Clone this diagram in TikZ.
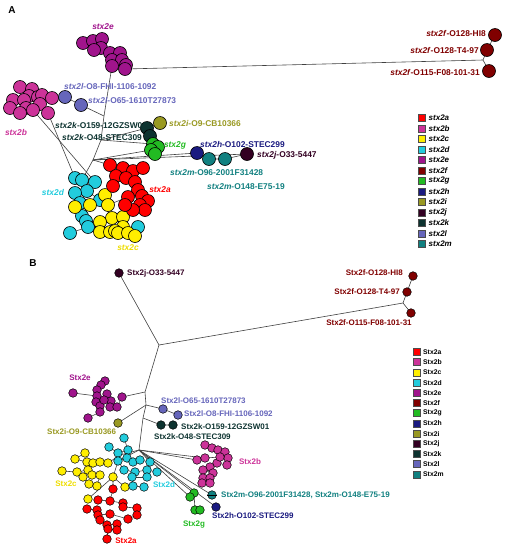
\documentclass[tikz,border=0pt]{standalone}
\usepackage{fontspec}
\setmainfont{Liberation Sans}
\usetikzlibrary{backgrounds}
\definecolor{c2a}{HTML}{FF0000}
\definecolor{c2b}{HTML}{CC3399}
\definecolor{c2c}{HTML}{FFEE00}
\definecolor{c2d}{HTML}{22CCDD}
\definecolor{c2e}{HTML}{A0148C}
\definecolor{c2f}{HTML}{800000}
\definecolor{c2g}{HTML}{22BB22}
\definecolor{c2h}{HTML}{1A1A80}
\definecolor{c2i}{HTML}{999922}
\definecolor{c2j}{HTML}{330022}
\definecolor{c2k}{HTML}{0D3330}
\definecolor{c2l}{HTML}{6666BB}
\definecolor{c2m}{HTML}{118080}
\definecolor{t2c}{HTML}{EEDD00}
\newcommand\clusterA[3]{\foreach \p [count=\i] in {#3} \node[ca,fill=#2] (#1\i) at \p {};}
\newcommand\clusterB[3]{\foreach \p [count=\i] in {#3} \node[cb,fill=#2] (#1\i) at \p {};}
\newcommand\chainlinks[2]{\foreach \a/\b in {#2} \draw[edge] (#1\a.center) -- (#1\b.center);}
\begin{document}
\begin{tikzpicture}[x=1pt,y=-1pt,
  ca/.style={circle,draw=black,line width=0.6pt,minimum size=13pt,inner sep=0pt},
  cb/.style={circle,draw=black,line width=0.5pt,minimum size=8.6pt,inner sep=0pt},
  edge/.style={draw=black!75,line width=0.6pt},
  laba/.style={font=\bfseries\fontsize{8.4}{9}\selectfont,inner sep=0pt},
  labb/.style={font=\bfseries\fontsize{8}{9}\selectfont,inner sep=0pt},
  sq/.style={draw=black!70,line width=0.6pt,minimum size=7pt,inner sep=0pt},
  panel/.style={font=\bfseries\fontsize{10}{11}\selectfont,inner sep=0pt}]
\useasboundingbox (0,0) rectangle (506,550);

% ---------------- Panel A ----------------
\node[panel] (pA) at (12,10) {A};
\clusterA{Ae}{c2e}{(83,43),(93,41),(102,39),(101,48),(94,50),(110,53),(120,53),(112,60),(122,60),(126,65),(112,66),(125,69)}
\clusterA{Ab}{c2b}{(20,87),(32,89),(29,96),(38,97),(13,100),(24,100),(10,108),(42,95),(52,98),(40,104),(26,108),(33,110),(20,113),(48,113)}
\clusterA{Al}{c2l}{(65,97),(81,105)}
\clusterA{Ak}{c2k}{(147,128),(150,136)}
\clusterA{Ai}{c2i}{(160,123)}
\clusterA{Ag}{c2g}{(153,144),(158,147),(151,150),(155,154)}
\clusterA{Ah}{c2h}{(197,153)}
\clusterA{Am}{c2m}{(209,159),(225,159)}
\clusterA{Aj}{c2j}{(247,154)}
\clusterA{Af}{c2f}{(495,35),(487,50),(489,71)}
\clusterA{Ad}{c2d}{(75,178),(82,180),(95,182),(87,191),(75,193),(100,200),(80,203),(82,216),(86,221),(88,227),(70,233),(138,227)}
\clusterA{Ac}{c2c}{(75,207),(90,205),(105,195),(108,205),(112,218),(123,217),(100,222),(123,227),(100,232),(110,232),(115,231),(118,233),(128,233),(135,236)}
\clusterA{Aa}{c2a}{(110,165),(123,168),(133,171),(143,168),(116,176),(126,178),(135,182),(113,186),(138,190),(142,196),(128,197),(148,201),(140,205),(145,210),(133,210),(125,205)}

\coordinate (fhA) at (483,60);
\coordinate (hA1) at (104,116);
\coordinate (hA2) at (101,140);
\coordinate (hA3) at (93,160);

\begin{scope}[on background layer]
\draw[edge] (Ae12.center) -- (fhA);
\draw[edge] (fhA) -- (Af2.center) -- (Af1.center);
\draw[edge] (fhA) -- (Af3.center);
\draw[edge] (Ae11.center) -- (hA1) -- (hA2) -- (hA3) -- (Ad2.center);
\draw[edge] (hA1) -- (Al2.center) -- (Al1.center) -- (Ab9.center);
\draw[edge] (Ab14.center) -- (Ad1.center);
\draw[edge] (Ab12.center) -- (Ad3.center);
\draw[edge] (hA2) -- (Ak1.center) -- (Ai1.center);
\draw[edge] (hA2) -- (Ag1.center);
\draw[edge] (hA3) -- (Ag3.center);
\draw[edge] (hA3) -- (Ah1.center) -- (Am1.center) -- (Am2.center) -- (Aj1.center);
\draw[edge] (hA3) -- (Aj1.center);
\draw[edge] (hA3) -- (Aa1.center);
\chainlinks{Ae}{1/2,2/3,3/4,4/5,4/6,6/7,7/9,8/9,9/10,10/12,11/12}
\chainlinks{Ab}{1/2,2/3,3/4,4/8,8/9,5/6,6/3,7/11,11/12,12/10,10/4,13/11,14/10}
\chainlinks{Ad}{1/2,2/3,3/4,4/5,4/6,5/7,7/8,8/9,9/10,10/11}
\chainlinks{Ac}{1/2,2/3,3/4,4/5,5/6,6/8,5/7,7/9,9/10,10/11,11/12,12/13,13/14}
\chainlinks{Aa}{1/2,2/3,3/4,2/5,5/6,6/7,7/9,8/5,9/10,10/12,11/13,13/14,14/15,15/16,16/11}
\draw[edge] (Ad6.center) -- (Aa8.center);
\draw[edge] (Ac3.center) -- (Aa8.center);
\draw[edge] (Ac4.center) -- (Aa11.center);
\draw[edge] (Ad6.center) -- (Ac5.center);
\draw[edge] (Ad12.center) -- (Ac14.center);
\end{scope}

\node[laba,text=c2e] (tAe) at (103,27) {\textit{stx2e}};
\node[laba,text=c2b] (tAb) at (16,132) {\textit{stx2b}};
\node[laba,text=c2l,anchor=west] (tAl1) at (64,86) {\textit{stx2l}-O8-FHI-1106-1092};
\node[laba,text=c2l,anchor=west] (tAl2) at (88,100) {\textit{stx2l}-O65-1610T27873};
\node[laba,text=c2k,anchor=west] (tAk1) at (55,125) {\textit{stx2k}-O159-12GZSW01};
\node[laba,text=c2k,anchor=west] (tAk2) at (62,137) {\textit{stx2k}-O48-STEC309};
\node[laba,text=c2i,anchor=west] (tAi) at (169,123) {\textit{stx2i}-O9-CB10366};
\node[laba,text=c2g] (tAg) at (175,145) {\textit{stx2g}};
\node[laba,text=c2h,anchor=west] (tAh) at (200,144) {\textit{stx2h}-O102-STEC299};
\node[laba,text=c2j,anchor=west] (tAj) at (257,155) {\textit{stx2j}-O33-5447};
\node[laba,text=c2m,anchor=west] (tAm1) at (170,173) {\textit{stx2m}-O96-2001F31428};
\node[laba,text=c2m,anchor=west] (tAm2) at (207,187) {\textit{stx2m}-O148-E75-19};
\node[laba,text=c2a] (tAa) at (160,190) {\textit{stx2a}};
\node[laba,text=c2d] (tAd) at (53,192) {\textit{stx2d}};
\node[laba,text=t2c] (tAc) at (128,248) {\textit{stx2c}};
\node[laba,text=c2f,anchor=east] (tAf1) at (486,33) {\textit{stx2f}-O128-HI8};
\node[laba,text=c2f,anchor=east] (tAf2) at (479,50) {\textit{stx2f}-O128-T4-97};
\node[laba,text=c2f,anchor=east] (tAf3) at (480,72) {\textit{stx2f}-O115-F08-101-31};

\foreach \s [count=\i from 0] in {a,b,c,d,e,f,g,h,i,j,k,l,m} {
  \node[sq,fill=c2\s] (LA\s) at (422,118+10.5*\i) {};
  \node[font=\bfseries\itshape\fontsize{8}{9}\selectfont,inner sep=0pt,anchor=west] (LAt\s) at (428.5,118+10.5*\i) {stx2\s};
}

% ---------------- Panel B ----------------
\node[panel] (pB) at (33,263) {B};
\clusterB{Bj}{c2j}{(119,273)}
\clusterB{Bf}{c2f}{(413,276),(407,292),(411,313)}
\clusterB{Be}{c2e}{(73,393),(105,381),(101,385),(97,390),(97,396),(96,402),(100,406),(107,394),(111,401),(110,407),(122,397),(117,407),(100,412),(88,418),(104,400)}
\clusterB{Bl}{c2l}{(163,409),(178,415)}
\clusterB{Bk}{c2k}{(161,425),(173,425)}
\clusterB{Bi}{c2i}{(118,423)}
\clusterB{Bb}{c2b}{(205,445),(212,448),(218,450),(225,452),(228,458),(227,465),(217,463),(210,467),(203,470),(213,473),(203,478),(210,478),(202,483),(210,483),(197,460),(205,458),(220,457)}
\clusterB{Bm}{c2m}{(212,495)}
\clusterB{Bh}{c2h}{(216,507)}
\clusterB{Bg}{c2g}{(194,493),(190,497),(195,510),(200,510)}
\clusterB{Bc}{c2c}{(85,453),(75,459),(62,471),(77,472),(87,462),(93,463),(100,462),(108,463),(88,470),(92,475),(100,475),(83,477),(89,484),(97,486),(113,477),(125,487),(88,499)}
\clusterB{Bd}{c2d}{(109,447),(124,438),(118,453),(128,450),(127,458),(118,461),(133,462),(140,460),(150,462),(124,470),(135,472),(147,470),(157,472),(132,477),(147,477),(133,486),(144,487)}
\clusterB{Ba}{c2a}{(113,489),(98,500),(110,501),(123,503),(123,507),(87,509),(97,510),(137,508),(98,515),(110,514),(128,519),(137,515),(100,520),(107,525),(117,524),(117,530),(108,529),(107,539)}
\draw[line width=0.5pt] (Bm1.west) -- (Bm1.east);

\coordinate (B0) at (159,345);
\coordinate (B1) at (145,392);
\coordinate (B2) at (146,405);
\coordinate (B3) at (143,418);
\coordinate (B4) at (139,450);
\coordinate (B5) at (120,455);
\coordinate (fhB) at (403,303);

\begin{scope}[on background layer]
\draw[edge] (Bj1.center) -- (B0) -- (fhB);
\draw[edge] (fhB) -- (Bf2.center) -- (Bf1.center);
\draw[edge] (fhB) -- (Bf3.center);
\draw[edge] (B0) -- (B1) -- (B2) -- (B3) -- (B4);
\draw[edge] (B1) -- (Be11.center);
\draw[edge] (Be1.center) -- (Be5.center);
\draw[edge] (B2) -- (Bl1.center) -- (Bl2.center);
\draw[edge] (B2) -- (Bi1.center);
\draw[edge] (B3) -- (Bk1.center) -- (Bk2.center);
\draw[edge] (B4) -- (Bb15.center);
\draw[edge] (B4) -- (Bb16.center);
\draw[edge] (B4) -- (Bg2.center);
\draw[edge] (B4) -- (Bg1.center);
\draw[edge] (B4) -- (Bm1.center);
\draw[edge] (B4) -- (Bh1.center);
\draw[edge] (Bg1.center) -- (Bg3.center) -- (Bg4.center);
\draw[edge] (B4) -- (Bd6.center);
\draw[edge] (B4) -- (Bd9.center);
\draw[edge] (B4) -- (B5) -- (Bc8.center);
\draw[edge] (B5) -- (Bc15.center) -- (Ba1.center);
\draw[edge] (Bc15.center) -- (Bc17.center);
\chainlinks{Be}{2/3,3/4,4/5,5/6,6/7,7/13,13/14,8/9,9/10,10/12,12/11,8/15,15/7}
\chainlinks{Bb}{1/2,2/3,3/4,4/5,5/6,6/7,7/8,8/9,9/10,10/11,11/12,12/13,13/14,16/17,15/16}
\chainlinks{Bc}{1/2,3/4,4/9,2/5,5/6,6/7,7/8,9/10,10/11,12/13,13/14,11/14,16/15}
\chainlinks{Bd}{1/3,2/4,3/4,4/5,5/6,5/7,7/8,8/9,6/10,10/11,11/12,12/13,11/14,14/15,14/16,16/17}
\chainlinks{Ba}{1/3,2/3,3/4,4/5,6/7,7/9,5/8,9/10,10/11,11/12,9/13,13/14,14/15,15/16,16/17,17/18}
\end{scope}

\node[labb,text=c2j,anchor=west] (tBj) at (127,273) {Stx2j-O33-5447};
\node[labb,text=c2f,anchor=east] (tBf1) at (403,273) {Stx2f-O128-HI8};
\node[labb,text=c2f,anchor=east] (tBf2) at (400,292) {Stx2f-O128-T4-97};
\node[labb,text=c2f] (tBf3) at (369,323) {Stx2f-O115-F08-101-31};
\node[labb,text=c2e] (tBe) at (80,378) {Stx2e};
\node[labb,text=c2l,anchor=west] (tBl1) at (161,401) {Stx2l-O65-1610T27873};
\node[labb,text=c2l,anchor=west] (tBl2) at (184,414) {Stx2l-O8-FHI-1106-1092};
\node[labb,text=c2k,anchor=west] (tBk1) at (181,427) {Stx2k-O159-12GZSW01};
\node[labb,text=c2k,anchor=west] (tBk2) at (154,437) {Stx2k-O48-STEC309};
\node[labb,text=c2i,anchor=west] (tBi) at (47,432) {Stx2i-O9-CB10366};
\node[labb,text=c2b] (tBb) at (250,462) {Stx2b};
\node[labb,text=c2m,anchor=west] (tBm) at (221,495) {Stx2m-O96-2001F31428, Stx2m-O148-E75-19};
\node[labb,text=c2h,anchor=west] (tBh) at (212,516) {Stx2h-O102-STEC299};
\node[labb,text=c2g] (tBg) at (194,525) {Stx2g};
\node[labb,text=t2c] (tBc) at (66,484) {Stx2c};
\node[labb,text=c2d] (tBd) at (164,485) {Stx2d};
\node[labb,text=c2a] (tBa) at (126,541) {Stx2a};

\foreach \s [count=\i from 0] in {a,b,c,d,e,f,g,h,i,j,k,l,m} {
  \node[sq,fill=c2\s] (LB\s) at (417,352+10.2*\i) {};
  \node[font=\bfseries\fontsize{6.8}{8}\selectfont,inner sep=0pt,anchor=west] (LBt\s) at (423,352+10.2*\i) {Stx2\s};
}
\end{tikzpicture}
\end{document}
